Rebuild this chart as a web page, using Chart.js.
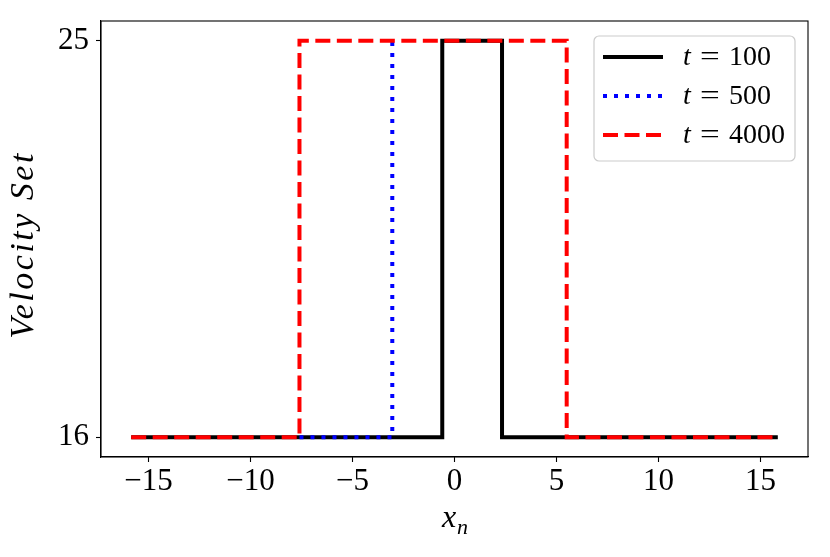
<!DOCTYPE html>
<html>
<head>
<meta charset="utf-8">
<script src="https://cdn.jsdelivr.net/npm/chart.js@4.4.0/dist/chart.umd.min.js"></script>
<style>
  html, body { margin: 0; padding: 0; background: #fff; }
  #wrap { width: 830px; height: 557px; }
</style>
</head>
<body>
<div id="wrap"><canvas id="myChart" width="830" height="557"></canvas></div>
<script>
// step profiles
const x100 = [-15.85, -0.6, -0.6, 2.33, 2.33, 15.85];
const y100 = [16, 16, 25, 25, 16, 16];
const x500 = [-7.6, -3.05, -3.05];
const y500 = [16, 16, 25];
const x4000 = [-15.85, -7.6, -7.6, 5.5, 5.5, 15.85];
const y4000 = [16, 16, 25, 25, 16, 16];
const xTicks = [-15, -10, -5, 0, 5, 10, 15];
const yTicks = [16, 25];
const labels = ['100', '500', '4000'];

const SERIF = '"Liberation Serif", "DejaVu Serif", serif';
const LW = 4;

function pts(xs, ys) {
    return xs.map(function (x, i) { return { x: x, y: ys[i] }; });
}

const styles = [
    { color: 'black', dash: [] },
    { color: 'blue', dash: [4, 7] },
    { color: 'red', dash: [15, 6.5] }
];

const data = {
    datasets: [
        { label: 't = 100', data: pts(x100, y100), order: 3 },
        { label: 't = 500', data: pts(x500, y500), order: 2 },
        { label: 't = 4000', data: pts(x4000, y4000), order: 1 }
    ]
};
data.datasets.forEach(function (d, i) {
    d.borderColor = styles[i].color;
    d.borderDash = styles[i].dash;
    d.borderWidth = LW;
    d.showLine = true;
    d.pointRadius = 0;
    d.tension = 0;
    d.fill = false;
    d.borderCapStyle = 'butt';
});

// frame, axis titles and legend drawn on top
const extras = {
    id: 'extras',
    afterDraw: function (chart) {
        const ctx = chart.ctx;
        const a = chart.chartArea;
        ctx.save();
        ctx.strokeStyle = 'black';
        ctx.lineWidth = 1.1;
        ctx.setLineDash([]);
        ctx.strokeRect(a.left, a.top, a.right - a.left, a.bottom - a.top);

        // y label
        ctx.save();
        ctx.translate(24, 245);
        ctx.rotate(-Math.PI / 2);
        ctx.fillStyle = 'black';
        ctx.font = 'italic 34px ' + SERIF;
        ctx.letterSpacing = '2.5px';
        ctx.textAlign = 'center';
        ctx.textBaseline = 'middle';
        ctx.fillText('Velocity Set', 0, 0);
        ctx.restore();

        // x label: x_n
        const cx = (a.left + a.right) / 2;
        ctx.fillStyle = 'black';
        ctx.textBaseline = 'alphabetic';
        ctx.textAlign = 'left';
        ctx.font = 'italic 32px ' + SERIF;
        const wx = ctx.measureText('x').width;
        ctx.font = 'italic 22px ' + SERIF;
        const wn = ctx.measureText('n').width;
        const x0 = cx - (wx + wn) / 2;
        ctx.font = 'italic 32px ' + SERIF;
        ctx.fillText('x', x0, 527);
        ctx.font = 'italic 22px ' + SERIF;
        ctx.fillText('n', x0 + wx + 1, 534);

        // legend
        const bx = 594, by = 36, bw = 201, bh = 125, r = 5;
        ctx.beginPath();
        ctx.moveTo(bx + r, by);
        ctx.arcTo(bx + bw, by, bx + bw, by + bh, r);
        ctx.arcTo(bx + bw, by + bh, bx, by + bh, r);
        ctx.arcTo(bx, by + bh, bx, by, r);
        ctx.arcTo(bx, by, bx + bw, by, r);
        ctx.closePath();
        ctx.fillStyle = 'rgba(255,255,255,0.85)';
        ctx.fill();
        ctx.strokeStyle = '#cccccc';
        ctx.lineWidth = 1.2;
        ctx.stroke();

        const rows = [57, 96, 135];
        rows.forEach(function (yy, i) {
            const s = styles[i];
            ctx.beginPath();
            ctx.strokeStyle = s.color;
            ctx.lineWidth = LW;
            ctx.setLineDash(s.dash);
            ctx.moveTo(603, yy);
            ctx.lineTo(663, yy);
            ctx.stroke();
            ctx.setLineDash([]);
            ctx.fillStyle = 'black';
            ctx.textBaseline = 'middle';
            ctx.font = 'italic 28px ' + SERIF;
            ctx.fillText('t', 683, yy + 1);
            ctx.font = '28px ' + SERIF;
            ctx.save();
            ctx.scale(1.25, 1);
            ctx.fillText('=', 700 / 1.25, yy + 1);
            ctx.restore();
            ctx.fillText(labels[i], 729, yy + 1);
        });
        ctx.restore();
    }
};

const config = {
    type: 'scatter',
    data: data,
    plugins: [extras],
    options: {
        responsive: false,
        animation: false,
        layout: { padding: { top: 21, right: 22, left: 0, bottom: 0 } },
        plugins: {
            legend: { display: false },
            tooltip: { enabled: false }
        },
        scales: {
            x: {
                type: 'linear',
                min: -17.33,
                max: 17.33,
                afterBuildTicks: function (s) { s.ticks = xTicks.map(function (v) { return { value: v }; }); },
                afterFit: function (s) { s.height = 100; s.paddingLeft = 0; s.paddingRight = 0; },
                grid: { display: true, drawOnChartArea: false, drawTicks: true, tickLength: 5, tickColor: 'black', tickWidth: 1.1 },
                border: { display: true, color: 'black', width: 1.1 },
                ticks: {
                    color: 'black',
                    padding: 1,
                    maxRotation: 0,
                    autoSkip: false,
                    font: { family: SERIF, size: 31 },
                    callback: function (v) { return String(v).replace('-', '\u2212'); }
                }
            },
            y: {
                type: 'linear',
                min: 15.55,
                max: 25.45,
                afterBuildTicks: function (s) { s.ticks = yTicks.map(function (v) { return { value: v }; }); },
                afterFit: function (s) { s.width = 101; s.paddingTop = 0; s.paddingBottom = 0; },
                grid: { display: true, drawOnChartArea: false, drawTicks: true, tickLength: 5, tickColor: 'black', tickWidth: 1.1 },
                border: { display: true, color: 'black', width: 1.1 },
                ticks: {
                    color: 'black',
                    padding: 7,
                    font: { family: SERIF, size: 31 }
                }
            }
        }
    }
};

const myChart = new Chart(document.getElementById('myChart'), config);
</script>
</body>
</html>
